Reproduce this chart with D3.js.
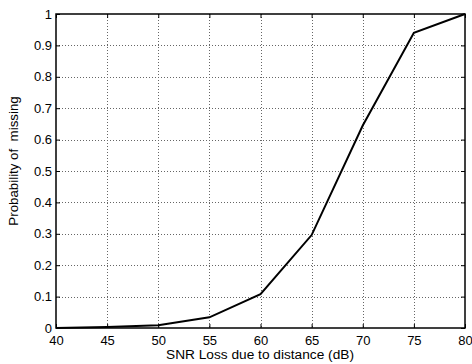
<!DOCTYPE html>
<html>
<head>
<meta charset="utf-8">
<script src="https://cdn.jsdelivr.net/npm/d3@7"></script>
<style>
body { margin: 0; background: #fff; }
text { font-family: "Liberation Sans", Arial, sans-serif; }
</style>
</head>
<body>
<svg id="canvas" width="472" height="364"></svg>
<script>
// SNR loss (dB) vs probability of missing
let snrLoss = [40, 45, 50, 55, 60, 65, 70, 75, 80]
let pMiss = [0, 0.003, 0.009, 0.034, 0.108, 0.296, 0.645, 0.94, 1]
let xTicks = [40, 45, 50, 55, 60, 65, 70, 75, 80]
let yTicks = [0, 0.1, 0.2, 0.3, 0.4, 0.5, 0.6, 0.7, 0.8, 0.9, 1]

let plotLeft = 56, plotRight = 465, plotTop = 14, plotBottom = 328

let svg = d3.select('#canvas')

let xScale = d3.scaleLinear().domain([40, 80]).range([plotLeft, plotRight])
let yScale = d3.scaleLinear().domain([0, 1]).range([plotBottom, plotTop])

// grid
svg.append('g')
    .selectAll('line')
    .data(xTicks.slice(1, -1))
    .enter()
    .append('line')
    .attr('x1', (d) => Math.round(xScale(d)) + 0.5)
    .attr('x2', (d) => Math.round(xScale(d)) + 0.5)
    .attr('y1', plotTop)
    .attr('y2', plotBottom)
    .attr('stroke', '#666')
    .attr('stroke-width', 1)
    .attr('stroke-dasharray', '1,2')
svg.append('g')
    .selectAll('line')
    .data(yTicks.slice(1, -1))
    .enter()
    .append('line')
    .attr('x1', plotLeft)
    .attr('x2', plotRight)
    .attr('y1', (d) => Math.round(yScale(d)) + 0.5)
    .attr('y2', (d) => Math.round(yScale(d)) + 0.5)
    .attr('stroke', '#666')
    .attr('stroke-width', 1)
    .attr('stroke-dasharray', '1,2')

// axes, ticks point inward
let fmt = (d) => d3.format('')(d)
svg.append('g')
    .attr('transform', 'translate(0,' + plotBottom + ')')
    .call(d3.axisBottom(xScale).tickValues(xTicks).tickSizeInner(-4).tickSizeOuter(0).tickPadding(8))
svg.append('g')
    .attr('transform', 'translate(0,' + plotTop + ')')
    .call(d3.axisTop(xScale).tickValues(xTicks).tickSizeInner(-4).tickSizeOuter(0).tickFormat(''))
svg.append('g')
    .attr('transform', 'translate(' + plotLeft + ',0)')
    .call(d3.axisLeft(yScale).tickValues(yTicks).tickSizeInner(-4).tickSizeOuter(0).tickPadding(4).tickFormat(fmt))
svg.append('g')
    .attr('transform', 'translate(' + plotRight + ',0)')
    .call(d3.axisRight(yScale).tickValues(yTicks).tickSizeInner(-4).tickSizeOuter(0).tickFormat(''))

svg.selectAll('.domain').remove()
svg.selectAll('.tick text')
    .attr('font-size', 13)
    .attr('font-family', '"Liberation Sans", Arial, sans-serif')
    .attr('fill', '#000')
svg.selectAll('.tick line').attr('stroke', '#000')

svg.append('rect')
    .attr('x', plotLeft)
    .attr('y', plotTop)
    .attr('width', plotRight - plotLeft)
    .attr('height', plotBottom - plotTop)
    .attr('fill', 'none')
    .attr('stroke', '#000')
    .attr('stroke-width', 1.5)

// curve
let line = d3.line()
    .x((d, i) => xScale(snrLoss[i]))
    .y((d) => yScale(d))
svg.append('path')
    .datum(pMiss)
    .attr('d', line)
    .attr('fill', 'none')
    .attr('stroke', '#000')
    .attr('stroke-width', 2)

// labels
svg.append('text')
    .text('SNR Loss due to distance (dB)')
    .attr('x', 260)
    .attr('y', 359)
    .attr('text-anchor', 'middle')
    .attr('font-size', 13.7)
svg.append('text')
    .text('Probability of  missing')
    .attr('transform', 'translate(18,161) rotate(-90)')
    .attr('text-anchor', 'middle')
    .attr('font-size', 13.3)
    .style('white-space', 'pre')
</script>
</body>
</html>
